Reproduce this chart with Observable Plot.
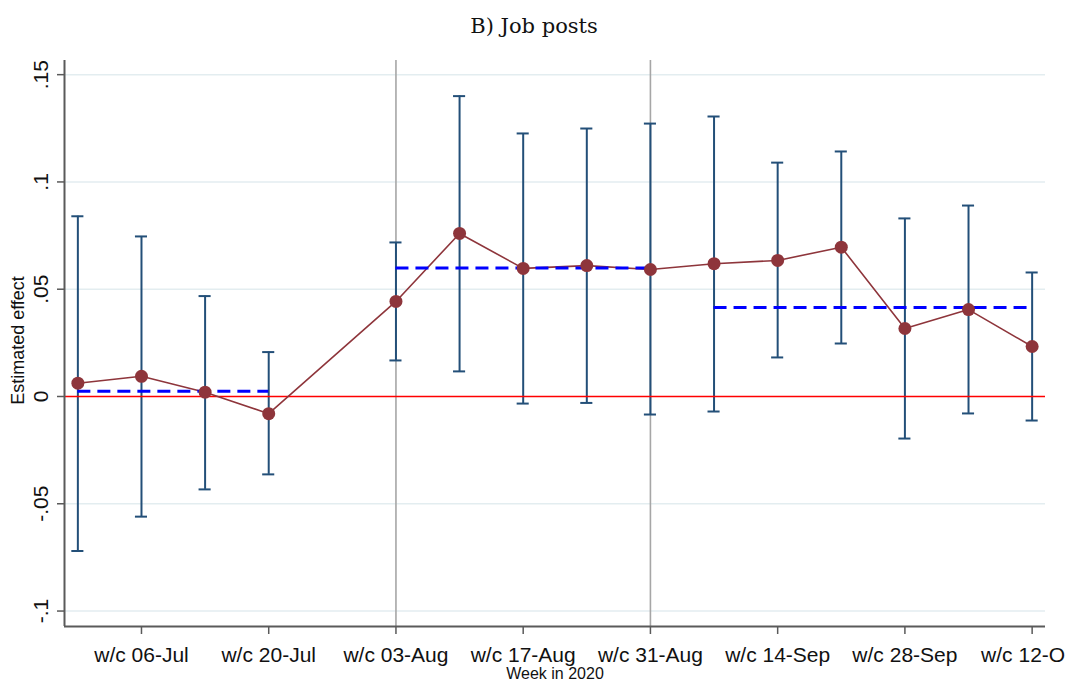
<!DOCTYPE html>
<html>
<head>
<meta charset="utf-8">
<script src="https://cdn.jsdelivr.net/npm/d3@7"></script>
<script src="https://cdn.jsdelivr.net/npm/@observablehq/plot@0.6"></script>
<style>
  html, body { margin: 0; padding: 0; background: #fff; }
  #title { width: 1068px; height: 50px; box-sizing: border-box; padding-top: 14px; text-align: center;
           font-family: "DejaVu Serif", serif; font-size: 21px; line-height: 24px; color: #111; }
</style>
</head>
<body>
<div id="title">B) Job posts</div>
<div id="chart"></div>
<script>
// Week number since w/c 29-Jun-2020 (w/c 27-Jul not shown)
const weekLabels = ["29-Jun","06-Jul","13-Jul","20-Jul","03-Aug","10-Aug","17-Aug","24-Aug","31-Aug","07-Sep","14-Sep","21-Sep","28-Sep","05-Oct","12-Oct"];
const weekNo   = [0, 1, 2, 3, 5, 6, 7, 8, 9, 10, 11, 12, 13, 14, 15];
const estimate = [0.0062, 0.0094, 0.0020, -0.0080, 0.0443, 0.0760, 0.0597, 0.0610, 0.0592, 0.0619, 0.0634, 0.0696, 0.0317, 0.0405, 0.0233];
const ciLow    = [-0.0720, -0.0560, -0.0433, -0.0363, 0.0168, 0.0117, -0.0033, -0.0030, -0.0084, -0.0070, 0.0182, 0.0247, -0.0196, -0.0079, -0.0112];
const ciHigh   = [0.0840, 0.0746, 0.0468, 0.0207, 0.0718, 0.1400, 0.1226, 0.1249, 0.1272, 0.1305, 0.1090, 0.1142, 0.0830, 0.0890, 0.0578];

// Period averages (dashed)
const periodStart = [0, 5, 10];
const periodEnd   = [3, 9, 15];
const periodMean  = [0.0024, 0.0599, 0.0415];

// Vertical reference lines (w/c 03-Aug, w/c 31-Aug)
const vLines = [5, 9];

const xTicks = [1, 3, 5, 7, 9, 11, 13, 15];
const xTickLabels = ["w/c 06-Jul","w/c 20-Jul","w/c 03-Aug","w/c 17-Aug","w/c 31-Aug","w/c 14-Sep","w/c 28-Sep","w/c 12-O"];
const yTicks = [-0.1, -0.05, 0, 0.05, 0.1, 0.15];
const yTickLabels = ["-.1", "-.05", "0", ".05", ".1", ".15"];

const xDomain = [-0.21, 15.21];
const yDomain = [-0.1072, 0.1566];

const data = weekNo.map((w, i) => ({w, label: weekLabels[i], est: estimate[i], lo: ciLow[i], hi: ciHigh[i]}));
const periods = periodStart.map((s, i) => ({x1: s, x2: periodEnd[i], y: periodMean[i]}));
const yt = yTicks.map((v, i) => ({v, label: yTickLabels[i]}));
const xt = xTicks.map((v, i) => ({v, label: xTickLabels[i]}));
const xtMain = xt.slice(0, -1);
const xtLast = xt.slice(-1);

const navy = "#234f78";
const maroon = "#8e353b";
const capHalf = 0.095;
const font = "'Liberation Sans', Arial, sans-serif";

const chart = Plot.plot({
  width: 1068,
  height: 632,
  marginLeft: 64,
  marginRight: 23,
  marginTop: 10,
  marginBottom: 56,
  style: {fontFamily: font, fontSize: "21px", color: "#111", background: "#fff"},
  x: {domain: xDomain},
  y: {domain: yDomain},
  marks: [
    Plot.gridY(yTicks.filter(v => v !== 0), {stroke: "#e3edf0", strokeOpacity: 1, strokeWidth: 1.5}),
    Plot.ruleX(vLines, {stroke: "#a6a6a6", strokeWidth: 1.6}),
    // error bars
    Plot.ruleX(data, {x: "w", y1: "lo", y2: "hi", stroke: navy, strokeWidth: 2}),
    Plot.ruleY(data, {y: "hi", x1: d => d.w - capHalf, x2: d => d.w + capHalf, stroke: navy, strokeWidth: 2}),
    Plot.ruleY(data, {y: "lo", x1: d => d.w - capHalf, x2: d => d.w + capHalf, stroke: navy, strokeWidth: 2}),
    Plot.ruleY([0], {stroke: "#ff0000", strokeWidth: 1.6}),
    Plot.line(data, {x: "w", y: "est", stroke: maroon, strokeWidth: 1.6}),
    Plot.ruleY(periods, {y: "y", x1: "x1", x2: "x2", stroke: "#0000ff", strokeWidth: 3, strokeDasharray: "13,7"}),
    Plot.dot(data, {x: "w", y: "est", r: 6.5, fill: maroon, stroke: "none"}),
    // axes
    Plot.ruleX([xDomain[0]], {stroke: "#5a5a5a", strokeWidth: 2}),
    Plot.ruleY([yDomain[0]], {stroke: "#5a5a5a", strokeWidth: 2}),
    Plot.axisY({ticks: yTicks, tickSize: 7, tickFormat: () => "", stroke: "#5a5a5a", strokeWidth: 1.5, label: null}),
    Plot.text(yt, {y: "v", text: "label", frameAnchor: "left", dx: -23, rotate: -90, textAnchor: "middle", lineAnchor: "middle", fontSize: 21, fill: "#111"}),
    Plot.axisX({ticks: xTicks, tickSize: 8, tickFormat: () => "", stroke: "#5a5a5a", strokeWidth: 1.5, label: null}),
    Plot.text(xtMain, {x: "v", text: "label", frameAnchor: "bottom", dy: 29, textAnchor: "middle", lineAnchor: "middle", fontSize: 21, fill: "#111"}),
    Plot.text(xtLast, {x: "v", text: "label", frameAnchor: "bottom", dy: 29, dx: -9, textAnchor: "middle", lineAnchor: "middle", fontSize: 21, fill: "#111"}),
    Plot.text(["Estimated effect"], {frameAnchor: "left", dx: -46, dy: -3, rotate: -90, textAnchor: "middle", lineAnchor: "middle", fontSize: 18, fill: "#111"}),
    Plot.text(["Week in 2020"], {frameAnchor: "bottom", dy: 47, textAnchor: "middle", lineAnchor: "middle", fontSize: 16, fill: "#111"})
  ]
});
document.getElementById("chart").appendChild(chart);
</script>
</body>
</html>
